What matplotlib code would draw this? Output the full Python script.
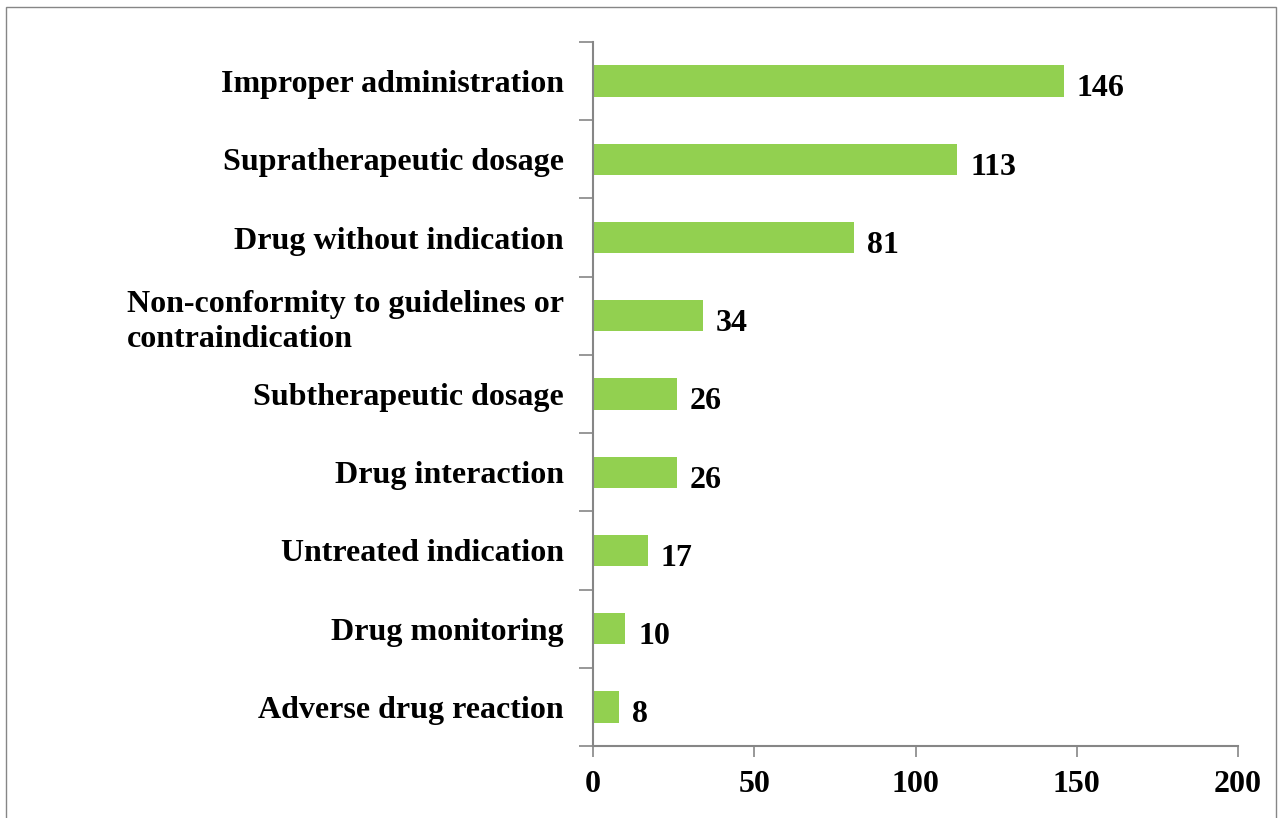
import numpy as np
import matplotlib.pyplot as plt
from matplotlib.patches import Rectangle

categories = ['Improper administration', 'Supratherapeutic dosage', 'Drug without indication',
              'Non-conformity to guidelines or\ncontraindication', 'Subtherapeutic dosage',
              'Drug interaction', 'Untreated indication', 'Drug monitoring', 'Adverse drug reaction']
counts = [146, 113, 81, 34, 26, 26, 17, 10, 8]
xticks = [0, 50, 100, 150, 200]

plt.rcParams['font.family'] = ['Liberation Serif', 'DejaVu Serif']
plt.rcParams['font.weight'] = 'bold'

fig = plt.figure(figsize=(12.84, 8.18), dpi=100)
ax = fig.add_axes([593/1284, 1-746/818, (1238-593)/1284, (746-42)/818])

y = np.arange(len(categories))[::-1]
ax.barh(y, counts, height=0.4, color='#92D050')

# value labels sit a little below the bar centre, as in the original
for yi, v in zip(y, counts):
    ax.text(v + 4, yi - 0.1, str(v), va='center', ha='left', fontsize=23, fontweight='bold')

ax.set_xlim(0, 200)
ax.set_ylim(-0.5, len(categories) - 0.5)
ax.set_xticks(xticks)
ax.set_xticklabels([str(t) for t in xticks], fontsize=23, fontweight='bold')
ax.set_yticks(y)
ax.set_yticklabels(categories, fontsize=23, fontweight='bold', multialignment='left',
                   linespacing=1.25)
ax.set_yticks(np.arange(-0.5, len(categories), 1), minor=True)
ax.tick_params(axis='y', which='major', length=0, pad=21)
ax.tick_params(axis='y', which='minor', length=10, color='#868686', width=1.2)
ax.tick_params(axis='x', length=8, color='#868686', width=1.2, pad=9)

for s in ['top', 'right']:
    ax.spines[s].set_visible(False)
for s in ['left', 'bottom']:
    ax.spines[s].set_color('#868686')
    ax.spines[s].set_linewidth(1.5)

# border round the chart
fig.patches.append(Rectangle((6/1284, -0.02), (1276-6)/1284, 1.02 - 7/818,
                             transform=fig.transFigure, fill=False,
                             edgecolor='#868686', linewidth=1))

fig.savefig('out.png', dpi=100)
